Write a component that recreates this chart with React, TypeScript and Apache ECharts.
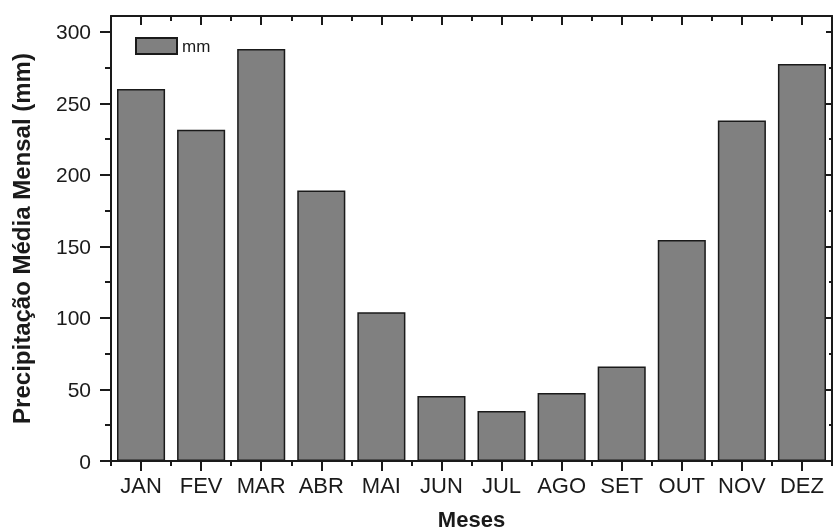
import React, { useEffect, useRef } from "react";
import * as echarts from "echarts";

const months = ["JAN", "FEV", "MAR", "ABR", "MAI", "JUN", "JUL", "AGO", "SET", "OUT", "NOV", "DEZ"];
const precipitation = [260, 231.5, 288, 189, 104, 45.5, 35, 47.5, 66, 154.5, 238, 277.5];
const majorTicks = [0, 50, 100, 150, 200, 250, 300];
const minorTicks = [25, 75, 125, 175, 225, 275];

const FONT = "'Liberation Sans', Arial, sans-serif";
const INK = "#1a1a1a";

export default function App() {
  const ref = useRef<HTMLDivElement>(null);
  useEffect(() => {
    if (!ref.current) return;
    const chart = echarts.init(ref.current, undefined, { renderer: "svg" });
    const yBase = { type: "value" as const, min: 0, max: 311, splitLine: { show: false } };
    const lineStyle = { color: INK, width: 2 };
    chart.setOption({
      animation: false,
      textStyle: { fontFamily: FONT },
      grid: { left: 111, right: 3, top: 16, bottom: 70, containLabel: false, outerBoundsMode: "none" },
      legend: {
        left: 130,
        top: 32,
        itemWidth: 41,
        itemHeight: 16,
        icon: "rect",
        textStyle: { fontSize: 17, color: INK, fontFamily: FONT },
        data: ["mm"],
      },
      xAxis: [
        {
          type: "category",
          data: months,
          position: "bottom",
          axisLine: { show: true, onZero: false, lineStyle },
          axisTick: { show: true, alignWithLabel: true, length: 10, interval: 0, lineStyle },
          axisLabel: { fontSize: 22, color: INK, margin: 13, interval: 0, fontFamily: FONT },
          name: "Meses",
          nameLocation: "middle",
          nameGap: 47,
          nameTextStyle: { fontSize: 22, lineHeight: 22, fontWeight: "bold", color: INK, fontFamily: FONT },
        },
        {
          type: "category",
          data: months,
          position: "bottom",
          axisLine: { show: false, onZero: false },
          axisTick: { show: true, alignWithLabel: false, length: 5, interval: 0, lineStyle },
          axisLabel: { show: false },
        },
        {
          type: "category",
          data: months,
          position: "top",
          axisLine: { show: true, onZero: false, lineStyle },
          axisTick: { show: true, inside: true, alignWithLabel: true, length: 9, interval: 0, lineStyle },
          axisLabel: { show: false },
        },
        {
          type: "category",
          data: months,
          position: "top",
          axisLine: { show: false, onZero: false },
          axisTick: { show: true, inside: true, alignWithLabel: false, length: 5, interval: 0, lineStyle },
          axisLabel: { show: false },
        },
      ],
      yAxis: [
        {
          ...yBase,
          position: "left",
          axisLine: { show: true, onZero: false, lineStyle },
          axisTick: { show: true, length: 11, customValues: majorTicks, lineStyle },
          axisLabel: { fontSize: 21, color: INK, margin: 20, customValues: majorTicks, fontFamily: FONT },
          name: "Precipitação Média Mensal (mm)",
          nameLocation: "middle",
          nameGap: 78,
          nameTextStyle: { fontSize: 24, fontWeight: "bold", color: INK, fontFamily: FONT },
        },
        {
          ...yBase,
          position: "left",
          axisLine: { show: false, onZero: false },
          axisTick: { show: true, length: 6, customValues: minorTicks, lineStyle },
          axisLabel: { show: false },
        },
        {
          ...yBase,
          position: "right",
          axisLine: { show: true, onZero: false, lineStyle },
          axisTick: { show: true, inside: true, length: 6, customValues: majorTicks, lineStyle },
          axisLabel: { show: false },
        },
        {
          ...yBase,
          position: "right",
          axisLine: { show: false, onZero: false },
          axisTick: { show: true, inside: true, length: 3, customValues: minorTicks, lineStyle },
          axisLabel: { show: false },
        },
      ],
      series: [
        {
          name: "mm",
          type: "bar",
          xAxisIndex: 0,
          yAxisIndex: 0,
          data: precipitation,
          barCategoryGap: "20%",
          itemStyle: { color: "#808080", borderColor: INK, borderWidth: 1.5 },
        },
      ],
    });
    return () => chart.dispose();
  }, []);
  return <div ref={ref} style={{ position: "fixed", left: 0, top: 0, width: 835, height: 531 }} />;
}
